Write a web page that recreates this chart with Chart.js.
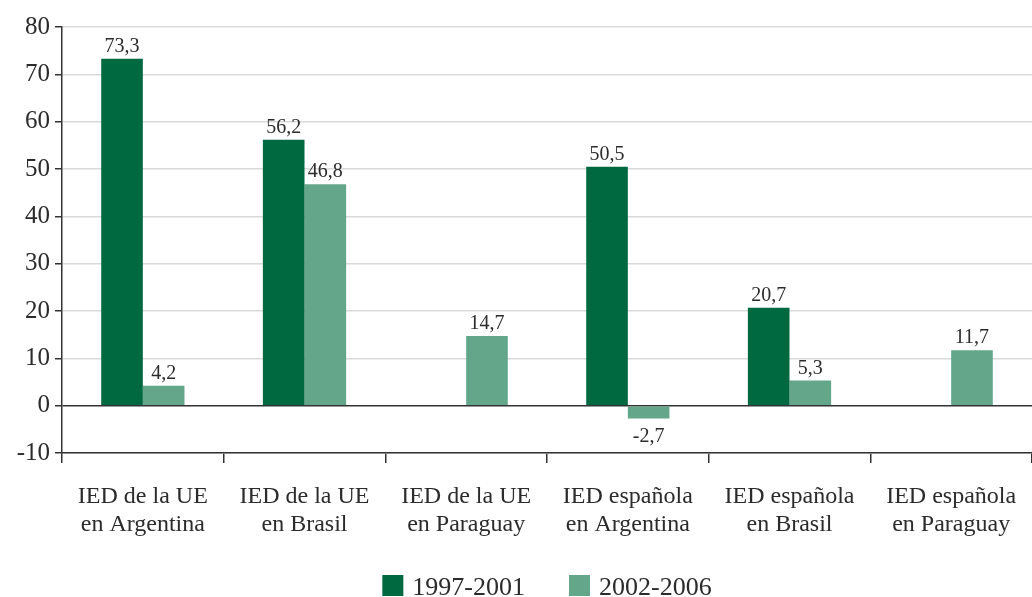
<!DOCTYPE html>
<html>
<head>
<meta charset="utf-8">
<script src="https://cdn.jsdelivr.net/npm/chart.js@4/dist/chart.umd.min.js"></script>
<style>
  html, body { margin: 0; padding: 0; background: #fff; }
  #wrap { width: 1032px; height: 597px; }
</style>
</head>
<body>
<div id="wrap"><canvas id="chart" width="1032" height="597"></canvas></div>
<script>
const categories = [
  ['IED de la UE', 'en Argentina'],
  ['IED de la UE', 'en Brasil'],
  ['IED de la UE', 'en Paraguay'],
  ['IED española', 'en Argentina'],
  ['IED española', 'en Brasil'],
  ['IED española', 'en Paraguay']
];
const series1997 = [73.3, 56.2, null, 50.5, 20.7, null];
const series2002 = [4.2, 46.8, 14.7, -2.7, 5.3, 11.7];
const seriesNames = ['1997-2001', '2002-2006'];
const seriesColors = ['#006940', '#63a68a'];

const FONT = "'Liberation Serif', 'Times New Roman', serif";
const TEXT = '#2b2b2b';

// etiquetas de valor encima / debajo de cada barra
const valueLabels = {
  id: 'valueLabels',
  afterDatasetsDraw(chart) {
    const ctx = chart.ctx;
    ctx.save();
    ctx.font = '20px ' + FONT;
    ctx.fillStyle = TEXT;
    ctx.textAlign = 'center';
    chart.data.datasets.forEach((ds, i) => {
      chart.getDatasetMeta(i).data.forEach((bar, j) => {
        const v = ds.data[j];
        if (v === null) return;
        const txt = v.toFixed(1).replace('.', ',');
        if (v >= 0) {
          ctx.textBaseline = 'alphabetic';
          ctx.fillText(txt, bar.x, bar.y - 7);
        } else {
          ctx.textBaseline = 'top';
          ctx.fillText(txt, bar.x, bar.y + 8);
        }
      });
    });
    ctx.restore();
  }
};

// leyenda abajo, centrada sobre el área del gráfico
const bottomLegend = {
  id: 'bottomLegend',
  afterDraw(chart) {
    const ctx = chart.ctx;
    const area = chart.chartArea;
    ctx.save();
    ctx.font = '26px ' + FONT;
    ctx.textBaseline = 'alphabetic';
    ctx.textAlign = 'left';
    const box = 21, gap = 9, between = 44;
    const widths = chart.data.datasets.map(ds => ctx.measureText(ds.label).width);
    let total = 0;
    widths.forEach((w, i) => { total += box + gap + w + (i > 0 ? between : 0); });
    let x = (area.left + area.right) / 2 - total / 2;
    chart.data.datasets.forEach((ds, i) => {
      ctx.fillStyle = ds.backgroundColor;
      ctx.fillRect(x, 575, box, box);
      ctx.fillStyle = TEXT;
      ctx.fillText(ds.label, x + box + gap, 595);
      x += box + gap + widths[i] + between;
    });
    ctx.restore();
  }
};

new Chart(document.getElementById('chart'), {
  type: 'bar',
  data: {
    labels: categories,
    datasets: [
      { label: seriesNames[0], data: series1997, backgroundColor: seriesColors[0] },
      { label: seriesNames[1], data: series2002, backgroundColor: seriesColors[1] }
    ]
  },
  options: {
    responsive: false,
    animation: false,
    layout: { padding: { top: 27, right: 0, left: 0, bottom: 0 } },
    datasets: {
      bar: { categoryPercentage: 0.515, barPercentage: 1.0 }
    },
    scales: {
      x: {
        afterFit: s => { s.height = 144; s.paddingRight = 0; },
        grid: {
          offset: true,
          drawOnChartArea: false,
          tickLength: 10,
          color: '#333',
          lineWidth: 1.5
        },
        border: { display: true, color: '#333', width: 1.5 },
        ticks: {
          color: TEXT,
          font: { family: FONT, size: 24, lineHeight: 1.15 },
          padding: 20,
          maxRotation: 0
        }
      },
      y: {
        min: -10,
        max: 80,
        afterFit: s => { s.width = 62; },
        ticks: {
          stepSize: 10,
          color: TEXT,
          font: { family: FONT, size: 25 },
          padding: 5
        },
        grid: {
          color: c => c.tick && c.tick.value === 0 ? '#333' : '#d9d9d9',
          lineWidth: 1.5,
          tickColor: '#333',
          tickLength: 7
        },
        border: { display: true, color: '#333', width: 1.5 }
      }
    },
    plugins: {
      legend: { display: false },
      tooltip: { enabled: false }
    }
  },
  plugins: [valueLabels, bottomLegend]
});
</script>
</body>
</html>
